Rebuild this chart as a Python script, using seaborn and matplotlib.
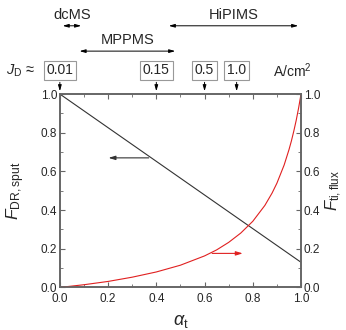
import numpy as np
import pandas as pd
import seaborn as sns
import matplotlib.pyplot as plt
from matplotlib.ticker import MultipleLocator

# values
alpha_t = [0.0, 0.1, 0.2, 0.3, 0.4, 0.5, 0.6, 0.65, 0.7, 0.75, 0.8, 0.85, 0.88, 0.9, 0.93, 0.95, 0.96, 0.97, 0.98, 0.99, 1.0]
f_ti_flux = [0.0, 0.014, 0.031, 0.053, 0.080, 0.115, 0.163, 0.194, 0.233, 0.281, 0.342, 0.424, 0.488, 0.539, 0.633, 0.712, 0.757, 0.808, 0.864, 0.928, 1.0]
line_x = [0.0, 1.0]
f_dr_sput = [1.0, 0.13]

jd_labels = ['0.01', '0.15', '0.5', '1.0']
jd_pos = [0.0, 0.4, 0.6, 0.733]

regimes = ['dcMS', 'MPPMS', 'HiPIMS']
regime_start = [0.0, 0.07, 0.44]
regime_end = [0.1, 0.49, 1.0]

sns.set_style('ticks')
plt.rcParams['font.family'] = ['Liberation Sans', 'DejaVu Sans']
plt.rcParams['mathtext.fontset'] = 'custom'
plt.rcParams['mathtext.rm'] = 'Liberation Sans'
plt.rcParams['mathtext.it'] = 'Liberation Sans:italic'

fig = plt.figure(figsize=(3.46, 3.30), dpi=100)
ax = fig.add_axes([0.173, 0.129, 0.697, 0.586])
ax2 = ax.twinx()

dr = pd.DataFrame({'a': line_x, 'F': f_dr_sput})
ti = pd.DataFrame({'a': alpha_t, 'F': f_ti_flux})
sns.lineplot(x='a', y='F', data=dr, ax=ax, color='#333333', lw=0.8)
sns.lineplot(x='a', y='F', data=ti, ax=ax2, color='#e02020', lw=0.8)

spine_c = '#666666'
for a in (ax, ax2):
    a.set_xlim(0, 1)
    a.set_ylim(0, 1)
    for s in a.spines.values():
        s.set_color(spine_c)
        s.set_linewidth(1.2)
    a.tick_params(which='both', direction='in', color=spine_c, labelsize=8.5, pad=2)
    a.tick_params(which='major', length=3.5)
    a.tick_params(which='minor', length=2)
    a.yaxis.set_major_locator(MultipleLocator(0.2))
    a.yaxis.set_minor_locator(MultipleLocator(0.1))
ax.xaxis.set_major_locator(MultipleLocator(0.2))
ax.xaxis.set_minor_locator(MultipleLocator(0.1))
ax.tick_params(which='both', top=True)
ax.tick_params(axis='x', pad=4)

ax.set_xlabel(r'$\alpha_{\rm t}$', fontsize=13)
ax.xaxis.set_label_coords(0.5, -0.13)
ax.set_ylabel(r'$F_{\rm DR,sput}$', fontsize=12.5)
ax.yaxis.set_label_coords(-0.135, 0.5)
ax2.set_ylabel(r'$F_{\rm ti,flux}$', fontsize=12)
ax2.yaxis.set_label_coords(1.095, 0.5)

# arrows pointing to the axes
ax.annotate('', xy=(0.19, 0.67), xytext=(0.38, 0.67),
            arrowprops=dict(arrowstyle='-|>,head_length=0.4,head_width=0.12', color='#333333', lw=0.8))
ax.annotate('', xy=(0.77, 0.176), xytext=(0.62, 0.176),
            arrowprops=dict(arrowstyle='-|>,head_length=0.4,head_width=0.12', color='#e02020', lw=0.8))

# current density boxes
for lab, x in zip(jd_labels, jd_pos):
    ax.text(x, 1.122, lab, ha='center', va='center', fontsize=10, clip_on=False,
            bbox=dict(boxstyle='square,pad=0.2', fc='white', ec='#999999', lw=0.8))
    ax.annotate('', xy=(x, 1.0), xytext=(x, 1.075), annotation_clip=False,
                arrowprops=dict(arrowstyle='-|>,head_length=0.35,head_width=0.1', color='black', lw=0.7))
ax.text(-0.165, 1.122, r'$J_{\rm D}$ ≈', ha='center', va='center', fontsize=10.5, clip_on=False)
ax.text(0.965, 1.122, r'A/cm$^2$', ha='center', va='center', fontsize=10, clip_on=False)

# discharge regimes
reg_y = [1.353, 1.222, 1.353]
txt_y = [1.409, 1.279, 1.409]
for lab, x0, x1, ya, yt in zip(regimes, regime_start, regime_end, reg_y, txt_y):
    ax.annotate('', xy=(x0, ya), xytext=(x1, ya), annotation_clip=False,
                arrowprops=dict(arrowstyle='<|-|>,head_length=0.35,head_width=0.1', color='black', lw=0.7))
    ax.text((x0 + x1) / 2, yt, lab, ha='center', va='center', fontsize=10.5, clip_on=False)

fig.savefig('out.png', dpi=100)
